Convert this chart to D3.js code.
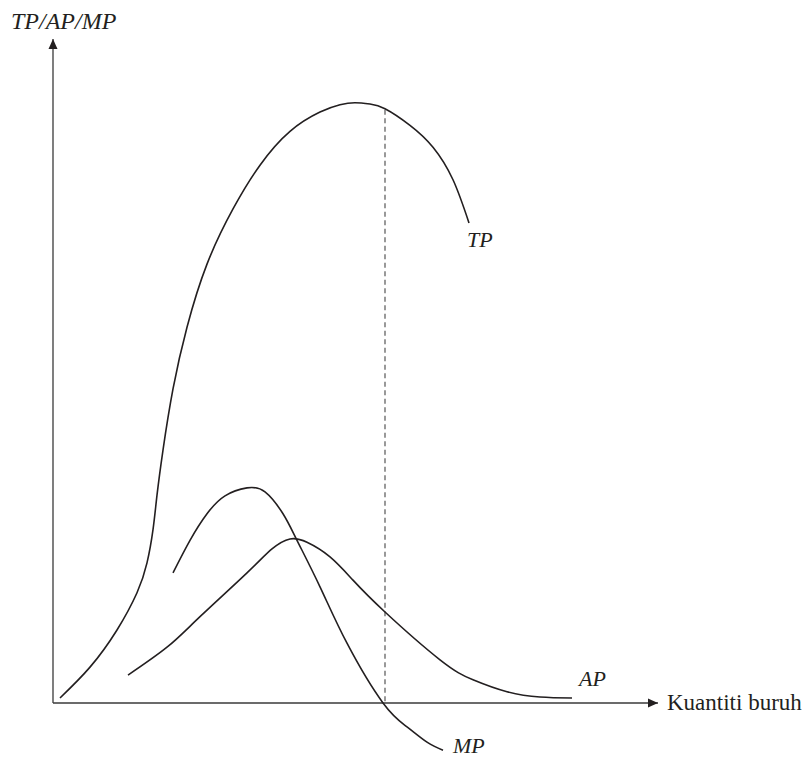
<!DOCTYPE html>
<html>
<head>
<meta charset="utf-8">
<script src="https://cdn.jsdelivr.net/npm/d3@7/dist/d3.min.js"></script>
<style>
  html, body { margin: 0; padding: 0; background: #fff; }
  svg { display: block; }
  text { font-family: "Liberation Serif", "Times New Roman", serif; fill: #231f20; }
</style>
</head>
<body>
<svg id="chart" width="808" height="758"></svg>
<script>
// ---- data (arbitrary units) ----
const tpX = [0.7, 3.7, 6.4, 8.4, 9.4, 10.0, 10.4, 11.0, 12.0, 13.4, 15.4, 18.0, 20.7, 23.7, 26.7, 28.7, 30.2, 31.7, 33.2, 35.7, 38.0, 40.0, 41.6];
const tpY = [0.75, 5.4, 11.0, 16.6, 21.1, 26.1, 31.3, 38.1, 47.3, 56.6, 66.1, 74.4, 81.0, 86.1, 89.0, 90.1, 90.4, 90.2, 89.5, 87.0, 83.7, 78.8, 72.3];

const apX = [7.5, 11.4, 14.7, 19.4, 21.9, 23.7, 25.4, 27.7, 30.0, 33.2, 38.7, 42.0, 45.4, 48.7, 51.9];
const apY = [4.2, 8.4, 13.0, 19.6, 23.2, 24.7, 24.2, 22.0, 18.5, 13.7, 6.5, 3.5, 1.7, 0.9, 0.75];

const mpX = [12.0, 13.7, 15.4, 17.2, 19.4, 21.2, 23.0, 24.4, 26.7, 29.4, 33.0, 35.4, 37.4, 39.0];
const mpY = [19.6, 24.5, 28.5, 31.2, 32.4, 31.8, 28.5, 24.5, 17.5, 9.0, 0, -3.6, -5.9, -7.1];

const maxTpX = 33.2;      // labour quantity where MP = 0 (dashed guide up to TP)
const maxTpY = 89.5;

const xDomain = [0, 60.5];
const yDomain = [0, 100];

const yAxisTitle = "TP/AP/MP";
const xAxisTitle = "Kuantiti buruh";
const curveLabels = ["TP", "AP", "MP"];

// ---- drawing ----
const svg = d3.select("#chart");
const x = d3.scaleLinear().domain(xDomain).range([53, 658]);
const y = d3.scaleLinear().domain(yDomain).range([703, 39]);

const defs = svg.append("defs");
defs.append("marker")
  .attr("id", "arrow")
  .attr("viewBox", "0 0 10 10")
  .attr("refX", 10).attr("refY", 5)
  .attr("markerWidth", 10).attr("markerHeight", 10)
  .attr("markerUnits", "userSpaceOnUse")
  .attr("orient", "auto")
  .append("path")
  .attr("d", "M0,0.5 L10,5 L0,9.5 Z")
  .attr("fill", "#231f20");

// axes (no ticks)
const xAxis = svg.append("g")
  .attr("transform", `translate(0,${y(0)})`)
  .call(d3.axisBottom(x).ticks(0).tickSize(0).tickSizeOuter(0));
xAxis.select(".domain")
  .attr("stroke", "#3a3a3a").attr("stroke-width", 1.3)
  .attr("d", `M${x(xDomain[0])},0H${x(xDomain[1])}`)
  .attr("marker-end", "url(#arrow)");

const yAxis = svg.append("g")
  .attr("transform", `translate(${x(0)},0)`)
  .call(d3.axisLeft(y).ticks(0).tickSize(0).tickSizeOuter(0));
yAxis.select(".domain")
  .attr("stroke", "#3a3a3a").attr("stroke-width", 1.3)
  .attr("d", `M0,${y(yDomain[0])}V${y(yDomain[1])}`)
  .attr("marker-end", "url(#arrow)");

// dashed line
svg.append("line")
  .attr("x1", x(maxTpX)).attr("x2", x(maxTpX))
  .attr("y1", y(maxTpY) + 1).attr("y2", y(0))
  .attr("stroke", "#555").attr("stroke-width", 1.2)
  .attr("stroke-dasharray", "5,3.5");

const line = d3.line()
  .x(d => x(d[0])).y(d => y(d[1]))
  .curve(d3.curveNatural);

const series = [
  d3.zip(tpX, tpY),
  d3.zip(apX, apY),
  d3.zip(mpX, mpY)
];
series.forEach(s => {
  svg.append("path")
    .datum(s)
    .attr("d", line)
    .attr("fill", "none")
    .attr("stroke", "#231f20")
    .attr("stroke-width", 1.6);
});

// labels
svg.append("text").attr("x", 11).attr("y", 29)
  .attr("font-size", 24).attr("font-style", "italic").text(yAxisTitle);
svg.append("text").attr("x", 667).attr("y", 710)
  .attr("font-size", 23).text(xAxisTitle);

const labelPos = [
  [tpX[tpX.length - 1] - 0.2, tpY[tpY.length - 1] - 3.7],
  [apX[apX.length - 1] + 0.7, apY[apY.length - 1] + 1.8],
  [mpX[mpX.length - 1] + 1.0, mpY[mpY.length - 1] - 0.4]
];
curveLabels.forEach((t, i) => {
  svg.append("text")
    .attr("x", x(labelPos[i][0]))
    .attr("y", y(labelPos[i][1]))
    .attr("font-size", 22).attr("font-style", "italic")
    .text(t);
});
</script>
</body>
</html>
